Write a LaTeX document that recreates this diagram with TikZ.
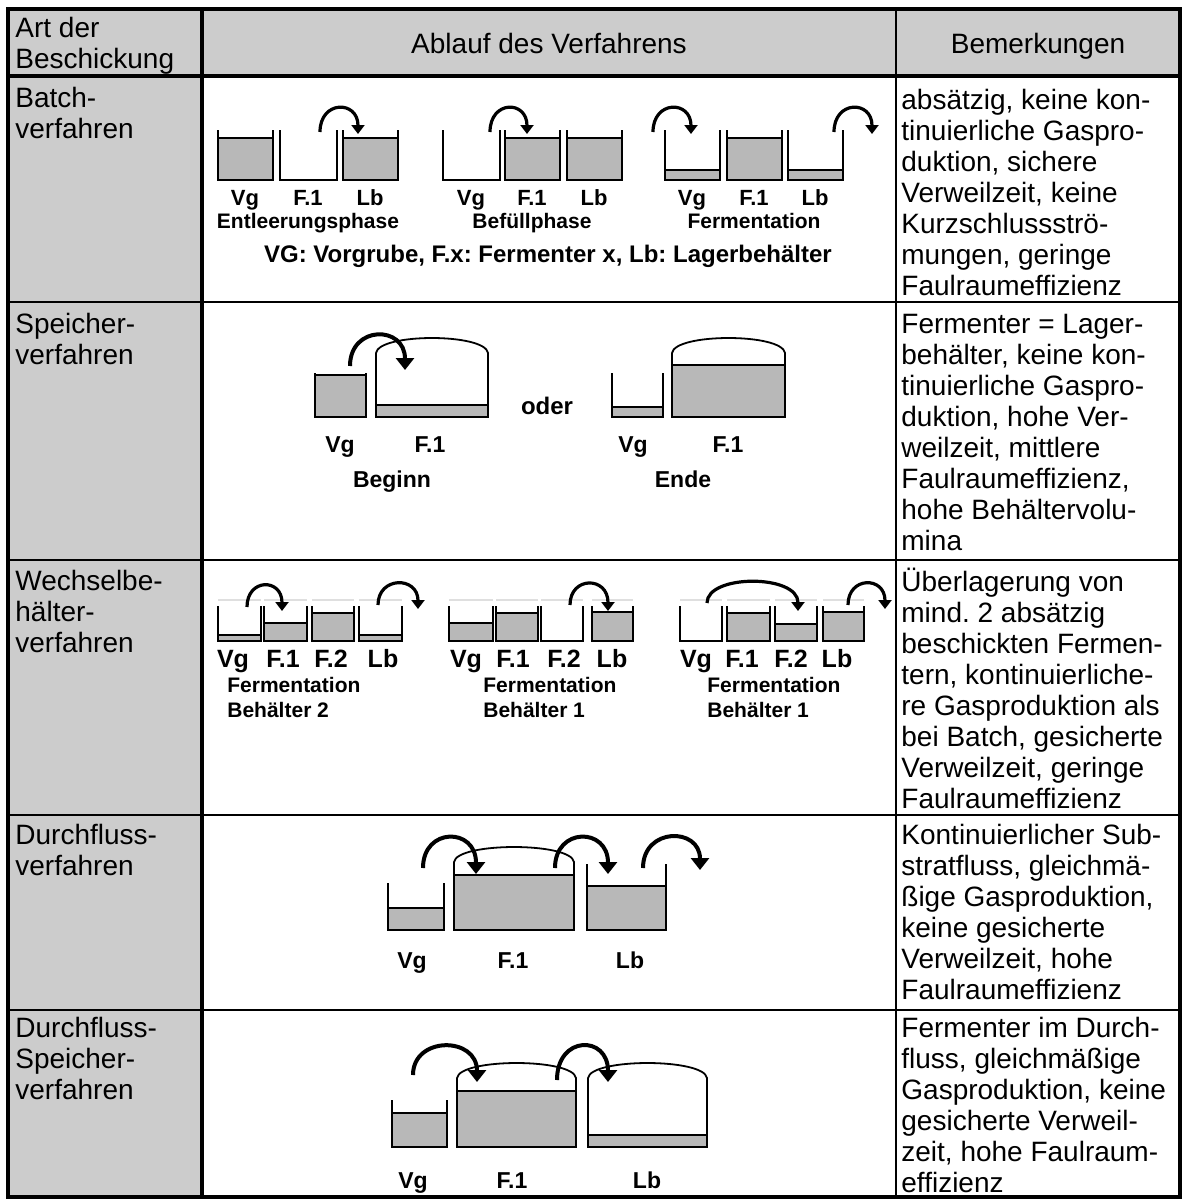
\documentclass[tikz,border=0pt]{standalone}
\usepackage{fontspec}
\setmainfont{Liberation Sans}
\usetikzlibrary{arrows.meta}

\definecolor{cellgray}{RGB}{204,204,204}
\definecolor{tankfill}{RGB}{184,184,184}

% open tank: left, right, top, bottom, level
\newcommand{\tank}[5]{%
  \fill[tankfill] (#1,#5) rectangle (#2,#4);
  \draw[tankline] (#1,#5) -- (#2,#5);
  \draw[tankline] (#1,#3) -- (#1,#4) -- (#2,#4) -- (#2,#3);
}
% tank with dome: left, right, wall top, dome peak, bottom, level
\newcommand{\domedtank}[6]{%
  \fill[tankfill] (#1,#6) rectangle (#2,#5);
  \draw[tankline] (#1,#6) -- (#2,#6);
  \draw[tankline] (#1,#5) -- (#1,#3)
    .. controls ({#1+3},{#3-(#3-#4)*4/3}) and ({#2-3},{#3-(#3-#4)*4/3}) .. (#2,#3)
    -- (#2,#5) -- cycle;
}

\begin{document}
\frenchspacing
\begin{tikzpicture}[x=0.5pt, y=-0.5pt,
    tankline/.style={line width=0.9pt},
    flow/.style={line width=1.6pt, -{Triangle[width=6.5pt,length=4.5pt]}},
    bigflow/.style={line width=2pt, -{Triangle[width=9pt,length=6pt]}},
    cell/.style={anchor=north west, inner sep=0pt, align=left, font=\fontsize{14}{15.5}\selectfont},
    head/.style={anchor=base, inner sep=0pt, font=\fontsize{14}{15.5}\selectfont},
    lbl/.style={anchor=base, inner sep=0pt, font=\bfseries\fontsize{11.5}{13}\selectfont},
    phase/.style={anchor=base, inner sep=0pt, font=\bfseries\fontsize{10.5}{12}\selectfont},
    faint/.style={gray!25, line width=0.6pt}]

  \useasboundingbox (0,0) rectangle (1184,1200);
  \fill[white] (0,0) rectangle (1184,1200);

  % table
  \fill[cellgray] (8,9) rectangle (1180,76);
  \fill[cellgray] (8,76) rectangle (202,1197);
  \foreach \y in {302,560,815,1010}
    \draw[line width=1pt] (8,\y) -- (1180,\y);
  \draw[line width=1.3pt] (896,9) -- (896,1197);
  \draw[line width=2.2pt] (202,9) -- (202,1197);
  \draw[line width=2pt] (8,76) -- (1180,76);
  \draw[line width=2pt] (8,9) rectangle (1180,1197);

  % header
  \node[cell] (art) at (15,15) {\strut Art der\\Beschickung};
  \node[head] (ablauf) at (549,53) {Ablauf des Verfahrens};
  \node[head] (bem) at (1038,53) {Bemerkungen};

  % first column
  \node[cell] (batch) at (15,85) {\strut Batch-\\verfahren};
  \node[cell] (speicher) at (15,311) {\strut Speicher-\\verfahren};
  \node[cell] (wechsel) at (15,568) {\strut Wechselbe-\\hälter-\\verfahren};
  \node[cell] (durch) at (15,822) {\strut Durchfluss-\\verfahren};
  \node[cell] (durchsp) at (15,1015) {\strut Durchfluss-\\Speicher-\\verfahren};

  % remarks
  \node[cell] (bem1) at (901,87) {\strut absätzig, keine kon-\\tinuierliche Gaspro-\\duktion, sichere\\Verweilzeit, keine\\Kurzschlussströ-\\mungen, geringe\\Faulraumeffizienz};
  \node[cell] (bem2) at (901,311) {\strut Fermenter = Lager-\\behälter, keine kon-\\tinuierliche Gaspro-\\duktion, hohe Ver-\\weilzeit, mittlere\\Faulraumeffizienz,\\hohe Behältervolu-\\mina};
  \node[cell] (bem3) at (901,568) {\strut Überlagerung von\\mind. 2 absätzig\\beschickten Fermen-\\tern, kontinuierliche-\\re Gasproduktion als\\bei Batch, gesicherte\\Verweilzeit, geringe\\Faulraumeffizienz};
  \node[cell] (bem4) at (901,822) {\strut Kontinuierlicher Sub-\\stratfluss, gleichmä-\\ßige Gasproduktion,\\keine gesicherte\\Verweilzeit, hohe\\Faulraumeffizienz};
  \node[cell] (bem5) at (901,1015) {\strut Fermenter im Durch-\\fluss, gleichmäßige\\Gasproduktion, keine\\gesicherte Verweil-\\zeit, hohe Faulraum-\\effizienz};

  % Batch
  \foreach \xl/\xr/\lv in {218/273/138, 280/337/180, 343/398/138,
                           443/500/180, 505/560/138, 567/622/138,
                           665/720/170, 727/782/138, 788/843/170}
    {\tank{\xl}{\xr}{130}{180}{\lv}}
  \draw[flow] (320,132) .. controls (320,100) and (358,100) .. (358,134);
  \draw[flow] (490,132) .. controls (490,100) and (527,100) .. (527,134);
  \draw[flow] (653,132) .. controls (653,100) and (691,100) .. (691,134);
  \draw[flow] (834,132) .. controls (834,100) and (872,100) .. (872,134);
  \foreach \xc/\txt [count=\i] in {245/Vg, 308/F.1, 370/Lb, 471/Vg, 532/F.1, 594/Lb, 692/Vg, 754/F.1, 815/Lb}
    \node[lbl, font=\bfseries\fontsize{11}{13}\selectfont] (b\i) at (\xc,205) {\txt};
  \node[phase] (entl) at (308,228) {Entleerungsphase};
  \node[phase] (bef) at (532,228) {Befüllphase};
  \node[phase] (ferm) at (754,228) {Fermentation};
  \node[lbl, font=\bfseries\fontsize{12}{14}\selectfont] (legende) at (548,262)
    {VG: Vorgrube, F.x: Fermenter x, Lb: Lagerbehälter};

  % Speicher
  \tank{315}{366}{373}{417}{375}
  \domedtank{376}{488}{353}{338}{417}{405}
  \tank{612}{663}{373}{417}{407}
  \domedtank{672}{785}{353}{338}{417}{365}
  \draw[bigflow] (350,366) .. controls (350,325) and (405,325) .. (405,370);
  \node[lbl] (s1) at (340,452) {Vg};
  \node[lbl] (s2) at (430,452) {F.1};
  \node[lbl] (s3) at (633,452) {Vg};
  \node[lbl] (s4) at (728,452) {F.1};
  \node[lbl] (beginn) at (392,487) {Beginn};
  \node[lbl] (ende) at (683,487) {Ende};
  \node[lbl, font=\bfseries\fontsize{12}{14}\selectfont] (oder) at (547,414) {oder};

  % Wechselbehaelter
  \foreach \xl/\xr/\lv in {218/261/635, 264/307/623, 312/354/613, 359/402/635,
                           449/493/623, 496/538/613, 541/583/641, 592/633/612,
                           680/722/641, 727/770/613, 775/817/624, 823/864/612}
    {\draw[faint] (\xl,600) -- (\xr,600);
     \tank{\xl}{\xr}{606}{641}{\lv}}
  \draw[flow] (247,607) .. controls (247,578) and (282,578) .. (282,611);
  \draw[flow] (378,605) .. controls (378,576) and (418,576) .. (418,609);
  \draw[flow] (570,605) .. controls (570,576) and (608,576) .. (608,611);
  \draw[flow] (707,603) .. controls (707,574) and (798,574) .. (798,611);
  \draw[flow] (848,605) .. controls (848,576) and (885,576) .. (885,609);
  \foreach \xc/\txt [count=\i] in {233/Vg, 283/F.1, 331/F.2, 383/Lb,
                                   466/Vg, 513/F.1, 564/F.2, 612/Lb,
                                   696/Vg, 742/F.1, 791/F.2, 837/Lb}
    \node[lbl, font=\bfseries\fontsize{12.5}{14}\selectfont] (w\i) at (\xc,667) {\txt};
  \foreach \xl/\nr [count=\i] in {227/2, 483/1, 707/1}
    {\node[phase, anchor=base west] (wf\i) at (\xl,692) {Fermentation};
     \node[phase, anchor=base west] (wb\i) at (\xl,717) {Behälter \nr};}

  % Durchfluss
  \tank{388}{444}{883}{930}{908}
  \domedtank{454}{574}{862}{847}{930}{875}
  \tank{587}{666}{864}{930}{886}
  \draw[bigflow] (423,868) .. controls (423,827) and (476,827) .. (476,874);
  \draw[bigflow] (555,868) .. controls (555,827) and (608,827) .. (608,874);
  \draw[bigflow] (643,868) .. controls (643,827) and (700,827) .. (700,870);
  \node[lbl] (d1) at (412,968) {Vg};
  \node[lbl] (d2) at (513,968) {F.1};
  \node[lbl] (d3) at (630,968) {Lb};

  % Durchfluss-Speicher
  \tank{392}{447}{1100}{1147}{1113}
  \domedtank{457}{576}{1078}{1063}{1147}{1091}
  \domedtank{588}{707}{1078}{1063}{1147}{1135}
  \draw[bigflow] (413,1075) .. controls (413,1036) and (477,1036) .. (477,1082);
  \draw[bigflow] (557,1080) .. controls (557,1035) and (608,1035) .. (608,1082);
  \node[lbl] (ds1) at (413,1188) {Vg};
  \node[lbl] (ds2) at (512,1188) {F.1};
  \node[lbl] (ds3) at (647,1188) {Lb};
\end{tikzpicture}
\end{document}
